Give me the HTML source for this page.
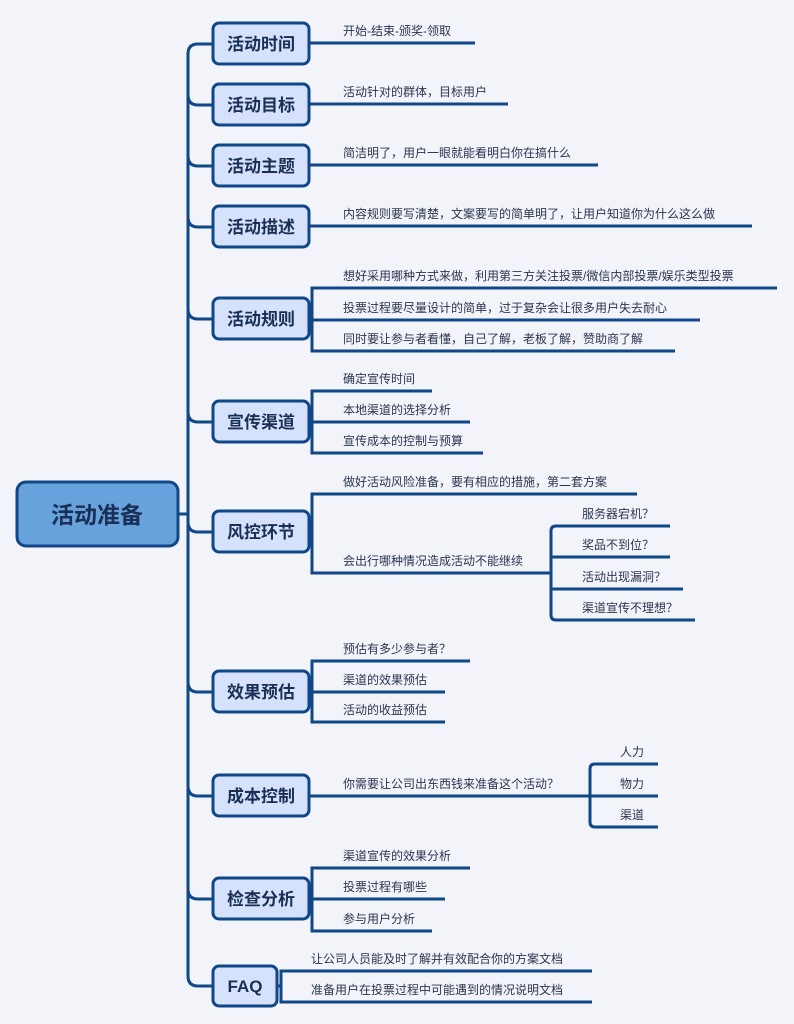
<!DOCTYPE html>
<html><head><meta charset="utf-8"><style>
html,body{margin:0;padding:0;background:#f3f4f9;}
svg{display:block;}
.l{fill:none;stroke:#0f4788;stroke-width:3;stroke-linecap:butt;}
.b{fill:#d6e2fb;stroke:#0f4788;stroke-width:3;}
.n{font-family:"Liberation Sans","Noto Sans CJK SC",sans-serif;font-size:17px;font-weight:bold;fill:#1a2f55;text-anchor:middle;}
.t{font-family:"Liberation Sans","Noto Sans CJK SC",sans-serif;font-size:12px;fill:#2a3550;}
</style></head><body>
<svg width="794" height="1024" viewBox="0 0 794 1024">
<path class="l" d="M213,44 H198 Q188,44 188,54 V976 Q188,986 198,986 H213"/>
<path class="l" d="M178,514 H188"/>
<path class="l" d="M188,95 Q188,105 198,105 H213"/>
<path class="l" d="M188,156 Q188,166 198,166 H213"/>
<path class="l" d="M188,217 Q188,227 198,227 H213"/>
<path class="l" d="M188,309 Q188,319 198,319 H213"/>
<path class="l" d="M188,412 Q188,422 198,422 H213"/>
<path class="l" d="M188,522 Q188,532 198,532 H213"/>
<path class="l" d="M188,682 Q188,692 198,692 H213"/>
<path class="l" d="M188,786 Q188,796 198,796 H213"/>
<path class="l" d="M188,889 Q188,899 198,899 H213"/>

<rect x="17" y="482" width="161" height="64" rx="9" fill="#68a2dc" stroke="#0f4788" stroke-width="3"/>
<text x="97" y="523" class="n" style="font-size:23px;">活动准备</text>

<rect class="b" x="213" y="23" width="96" height="41" rx="6"/><text class="n" x="261" y="50">活动时间</text>
<rect class="b" x="213" y="84" width="96" height="41" rx="6"/><text class="n" x="261" y="111">活动目标</text>
<rect class="b" x="213" y="145" width="96" height="41" rx="6"/><text class="n" x="261" y="172">活动主题</text>
<rect class="b" x="213" y="206" width="96" height="41" rx="6"/><text class="n" x="261" y="233">活动描述</text>
<rect class="b" x="213" y="298" width="96" height="41" rx="6"/><text class="n" x="261" y="325">活动规则</text>
<rect class="b" x="213" y="401" width="96" height="41" rx="6"/><text class="n" x="261" y="428">宣传渠道</text>
<rect class="b" x="213" y="511" width="96" height="41" rx="6"/><text class="n" x="261" y="538">风控环节</text>
<rect class="b" x="213" y="671" width="96" height="41" rx="6"/><text class="n" x="261" y="698">效果预估</text>
<rect class="b" x="213" y="775" width="96" height="41" rx="6"/><text class="n" x="261" y="802">成本控制</text>
<rect class="b" x="213" y="878" width="96" height="41" rx="6"/><text class="n" x="261" y="905">检查分析</text>
<rect class="b" x="213" y="966" width="64" height="40" rx="6"/><text class="n" x="245" y="992">FAQ</text>

<path class="l" d="M309,43 H475"/><text class="t" x="343" y="35">开始-结束-颁奖-领取</text>
<path class="l" d="M309,104 H508"/><text class="t" x="343" y="96">活动针对的群体，目标用户</text>
<path class="l" d="M309,165 H598"/><text class="t" x="343" y="157">简洁明了，用户一眼就能看明白你在搞什么</text>
<path class="l" d="M309,226 H752"/><text class="t" x="343" y="218">内容规则要写清楚，文案要写的简单明了，让用户知道你为什么这么做</text>

<path class="l" d="M309,319 H312"/>
<path class="l" d="M777,288 H312 V351 H675"/>
<path class="l" d="M312,320 H700"/>
<text class="t" x="343" y="280">想好采用哪种方式来做，利用第三方关注投票/微信内部投票/娱乐类型投票</text>
<text class="t" x="343" y="312">投票过程要尽量设计的简单，过于复杂会让很多用户失去耐心</text>
<text class="t" x="343" y="343">同时要让参与者看懂，自己了解，老板了解，赞助商了解</text>

<path class="l" d="M309,422 H312"/>
<path class="l" d="M432,391 H312 V453 H483"/>
<path class="l" d="M312,422 H470"/>
<text class="t" x="343" y="383">确定宣传时间</text>
<text class="t" x="343" y="414">本地渠道的选择分析</text>
<text class="t" x="343" y="445">宣传成本的控制与预算</text>

<path class="l" d="M309,532 H312"/>
<path class="l" d="M637,494 H312 V573 H551"/>
<text class="t" x="343" y="486">做好活动风险准备，要有相应的措施，第二套方案</text>
<text class="t" x="343" y="565">会出行哪种情况造成活动不能继续</text>
<path class="l" d="M670,526 H556 Q551,526 551,531 V615 Q551,620 556,620 H695"/>
<path class="l" d="M551,557 H670"/>
<path class="l" d="M551,589 H683"/>
<text class="t" x="582" y="518">服务器宕机？</text>
<text class="t" x="582" y="549">奖品不到位？</text>
<text class="t" x="582" y="581">活动出现漏洞？</text>
<text class="t" x="582" y="612">渠道宣传不理想？</text>

<path class="l" d="M309,692 H312"/>
<path class="l" d="M470,661 H312 V722 H445"/>
<path class="l" d="M312,692 H445"/>
<text class="t" x="343" y="653">预估有多少参与者？</text>
<text class="t" x="343" y="684">渠道的效果预估</text>
<text class="t" x="343" y="714">活动的收益预估</text>

<path class="l" d="M309,796 H658"/>
<text class="t" x="343" y="788">你需要让公司出东西钱来准备这个活动？</text>
<path class="l" d="M658,764 H595 Q590,764 590,769 V822 Q590,827 595,827 H658"/>
<text class="t" x="620" y="756">人力</text>
<text class="t" x="620" y="788">物力</text>
<text class="t" x="620" y="819">渠道</text>

<path class="l" d="M309,899 H312"/>
<path class="l" d="M470,868 H312 V931 H432"/>
<path class="l" d="M312,899 H445"/>
<text class="t" x="343" y="860">渠道宣传的效果分析</text>
<text class="t" x="343" y="891">投票过程有哪些</text>
<text class="t" x="343" y="923">参与用户分析</text>

<path class="l" d="M277,986 H281"/>
<path class="l" d="M592,971 H281 V1002 H592"/>
<text class="t" x="311" y="963">让公司人员能及时了解并有效配合你的方案文档</text>
<text class="t" x="311" y="994">准备用户在投票过程中可能遇到的情况说明文档</text>
</svg>
</body></html>
